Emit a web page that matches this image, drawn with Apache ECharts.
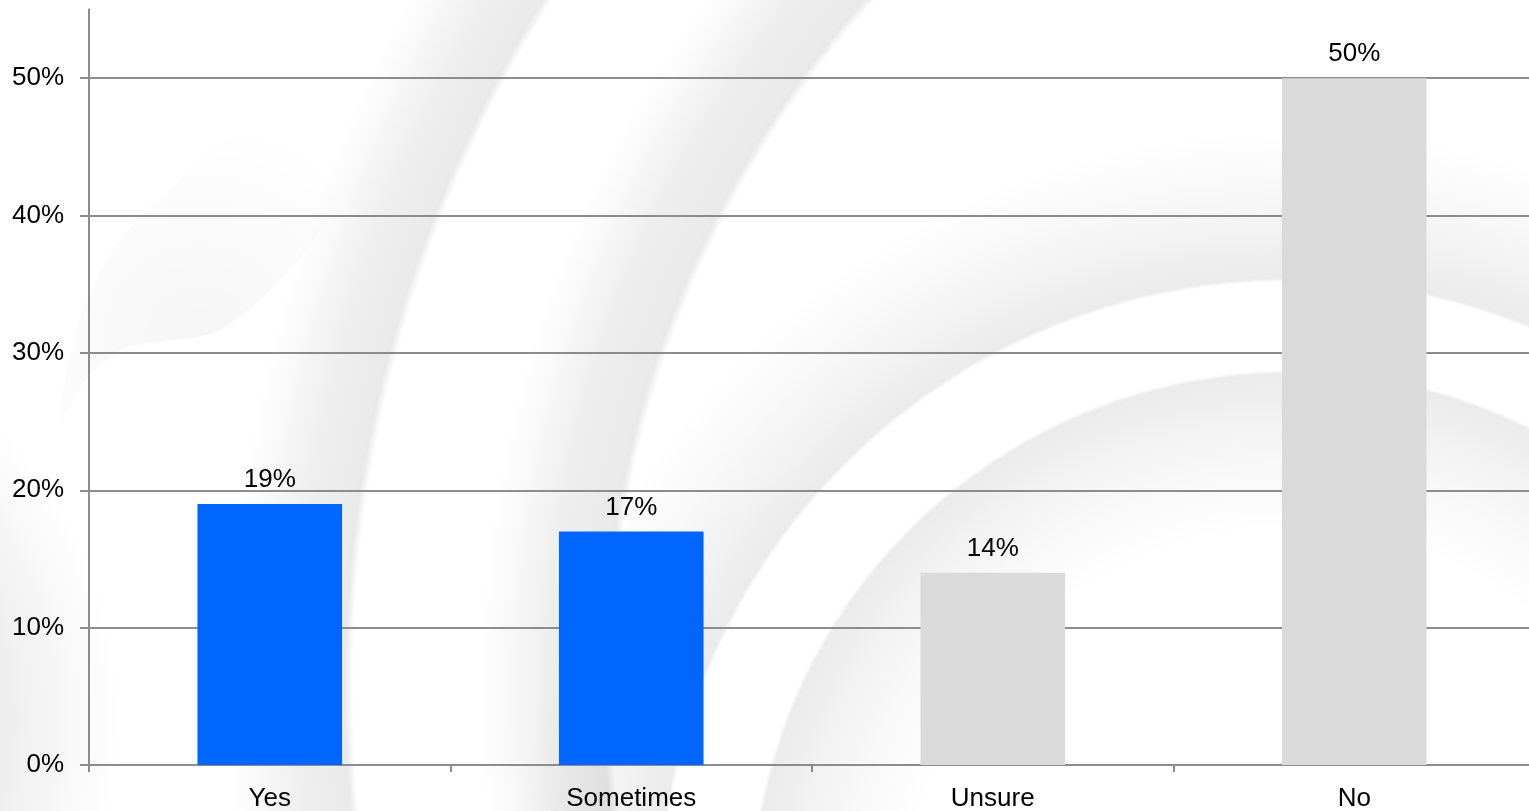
<!DOCTYPE html>
<html>
<head>
<meta charset="utf-8">
<title>Survey responses</title>
<script src="https://cdn.jsdelivr.net/npm/echarts@6/dist/echarts.min.js"></script>
<style>
  html, body { margin: 0; padding: 0; background: #ffffff; }
  #chart { width: 1529px; height: 811px; }
</style>
</head>
<body>
<div id="chart"></div>
<script>
// Answer categories and the share of respondents for each (percent)
const categories = ['Yes', 'Sometimes', 'Unsure', 'No'];
const shares = [19, 17, 14, 50];

// Value axis ticks (percent)
const yTicks = [0, 10, 20, 30, 40, 50];
const yMax = 55;

// Bar fill per category
const barColors = ['#0066FF', '#0066FF', '#DADADA', '#DADADA'];

const FONT = '"Liberation Sans", Arial, Helvetica, sans-serif';
const AXIS_GREY = '#8c8c8c';

// Soft ribbon watermark behind the plot
function ring(cx, cy, R, stops) {
  return {
    type: 'circle',
    z: -10,
    silent: true,
    shape: { cx: cx, cy: cy, r: R },
    style: {
      fill: {
        type: 'radial', x: cx, y: cy, r: R, global: true,
        colorStops: stops.map(function (s) {
          return { offset: s[0] / R, color: 'rgba(0,0,0,' + s[1] + ')' };
        })
      }
    }
  };
}

const watermark = [
  // left-hand sweeping ribbons
  ring(1639, 688, 1420, [
    [0, 0], [1028, 0], [1036, 0.085], [1090, 0.065], [1160, 0],
    [1286, 0], [1294, 0.085], [1350, 0.06], [1410, 0], [1420, 0]
  ]),
  // right-hand concentric ribbons
  ring(1290, 910, 790, [
    [0, 0], [380, 0], [470, 0.04], [536, 0.08], [540, 0],
    [628, 0], [632, 0.08], [700, 0.04], [780, 0], [790, 0]
  ]),
  // faint shading along the left edge
  ring(-300, 720, 420, [
    [0, 0.07], [300, 0.07], [420, 0]
  ]),
  // hooked tail at upper left
  {
    type: 'polygon', z: -10, silent: true,
    shape: {
      smooth: 0.3,
      points: [[60, 420], [90, 375], [125, 348], [160, 342], [220, 330], [290, 270],
               [340, 200], [385, 128], [330, 112], [250, 122], [180, 180], [120, 240], [80, 320]]
    },
    style: {
      fill: {
        type: 'radial', x: 200, y: 340, r: 220, global: true,
        colorStops: [
          { offset: 0, color: 'rgba(0,0,0,0.04)' },
          { offset: 1, color: 'rgba(0,0,0,0)' }
        ]
      }
    }
  }
];

const axisLineStyle = { color: AXIS_GREY, width: 2 };

const chart = echarts.init(document.getElementById('chart'), null, { renderer: 'canvas' });

chart.setOption({
  animation: false,
  backgroundColor: '#ffffff',
  graphic: { elements: watermark },
  grid: {
    left: 89, width: 1446, top: 9.5, bottom: 46,
    containLabel: false, outerBoundsMode: 'none'
  },
  xAxis: {
    type: 'category',
    data: categories,
    axisLine: { show: true, lineStyle: axisLineStyle },
    axisTick: { show: true, length: 7, alignWithLabel: false, lineStyle: axisLineStyle },
    axisLabel: { fontSize: 26, color: '#000', fontFamily: FONT, margin: 21 },
    splitLine: { show: false }
  },
  yAxis: {
    type: 'value',
    min: 0,
    max: yMax,
    interval: 10,
    axisLine: { show: true, lineStyle: axisLineStyle },
    axisTick: { show: true, length: 9, lineStyle: axisLineStyle, customValues: yTicks },
    axisLabel: {
      fontSize: 26, color: '#000', fontFamily: FONT, margin: 25,
      customValues: yTicks,
      formatter: '{value}%'
    },
    splitLine: { show: true, lineStyle: axisLineStyle }
  },
  series: [{
    type: 'bar',
    data: shares,
    barWidth: '40%',
    itemStyle: {
      color: function (p) { return barColors[p.dataIndex]; }
    },
    label: {
      show: true,
      position: 'top',
      distance: 11,
      fontSize: 26,
      color: '#000',
      fontFamily: FONT,
      formatter: '{c}%'
    }
  }]
});
</script>
</body>
</html>
